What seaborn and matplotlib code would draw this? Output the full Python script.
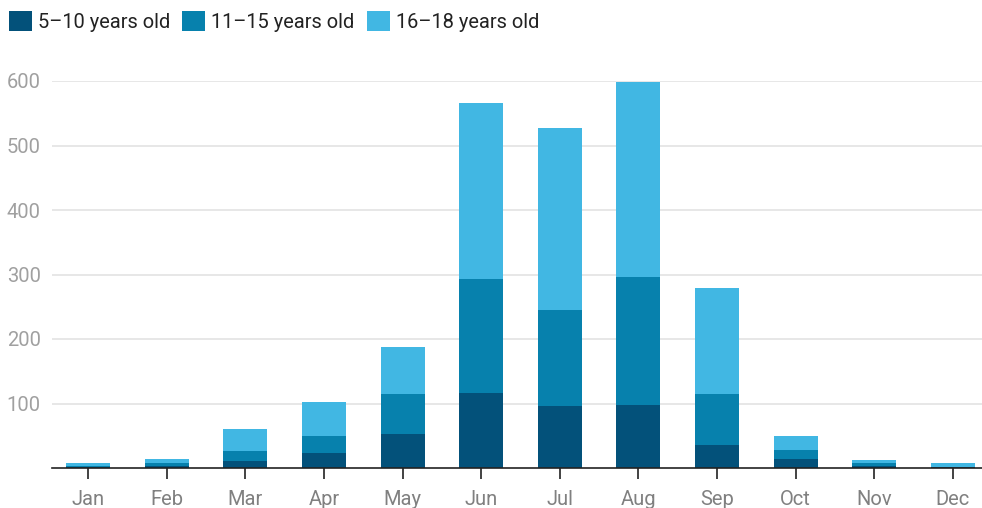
import numpy as np
import pandas as pd
import matplotlib
matplotlib.use("Agg")
import matplotlib.pyplot as plt
import seaborn as sns
from matplotlib.patches import Patch

months = ["Jan", "Feb", "Mar", "Apr", "May", "Jun", "Jul", "Aug", "Sep", "Oct", "Nov", "Dec"]
age_5_10 = [1, 3, 11, 23, 53, 116, 96, 98, 36, 14, 3, 1]
age_11_15 = [2, 4, 15, 27, 61, 177, 149, 198, 79, 14, 4, 1]
age_16_18 = [4, 7, 34, 52, 74, 273, 282, 303, 164, 22, 6, 5]
series = ["5\u201310 years old", "11\u201315 years old", "16\u201318 years old"]
colors = ["#03517a", "#0781ad", "#41b7e3"]

df = pd.DataFrame({"month": months, series[0]: age_5_10,
                   series[1]: age_11_15, series[2]: age_16_18})
cum = df[series].cumsum(axis=1)

sns.set_theme(style="white")
plt.rcParams["font.family"] = ["Roboto", "DejaVu Sans"]

fig = plt.figure(figsize=(9.82, 5.08), dpi=100)
ax = fig.add_axes([52 / 982, 1 - 468 / 508, 930 / 982, (468 - 81) / 508])

# draw stacked bars as overlapping cumulative bars, top layer first
for name, col in zip(series[::-1], colors[::-1]):
    sns.barplot(x=df["month"], y=cum[name], color=col, width=0.56,
                linewidth=0, saturation=1, ax=ax, zorder=3)

ax.set_ylim(0, 600)
ax.set_xlim(-0.46, 11.37)
ax.set_yticks([100, 200, 300, 400, 500, 600])
ax.yaxis.grid(True, color="#e3e3e3", linewidth=1.2, zorder=0)
ax.set_axisbelow(True)
ax.set_xlabel("")
ax.set_ylabel("")
for s in ["top", "right", "left"]:
    ax.spines[s].set_visible(False)
ax.spines["bottom"].set_color("#222222")
ax.spines["bottom"].set_linewidth(1.2)
ax.spines["bottom"].set_zorder(5)
ax.tick_params(axis="x", length=8, width=1.2, color="#222222",
               labelsize=14.5, pad=8, bottom=True, direction="out")
ax.tick_params(axis="x", labelcolor="#808080")
ax.tick_params(axis="y", length=0, labelsize=14.5, labelcolor="#a0a0a0", pad=8)

handles = [Patch(facecolor=c, edgecolor="none") for c in colors]
fig.legend(handles, series, loc="upper left", bbox_to_anchor=(9 / 982, 1 - 11 / 508),
           ncol=3, frameon=False, fontsize=14.4, handlelength=1.15, handleheight=1.15,
           handletextpad=0.3, columnspacing=0.6, borderpad=0, borderaxespad=0,
           labelcolor="#222222")

fig.savefig("out.png", dpi=100)
